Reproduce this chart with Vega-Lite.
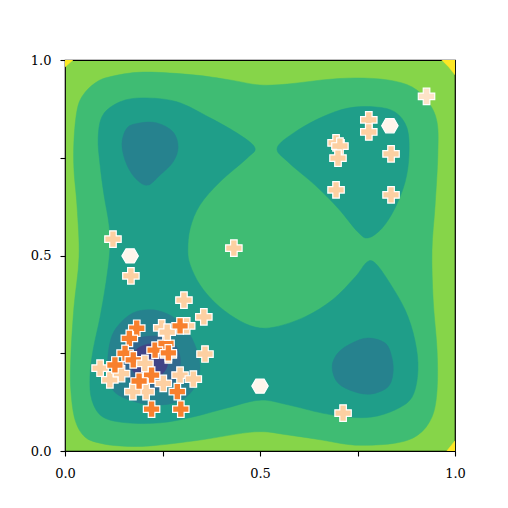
{
  "$schema": "https://vega.github.io/schema/vega-lite/v6.json",
  "width": 390,
  "height": 391,
  "autosize": {"type": "none"},
  "padding": {"left": 65, "top": 60, "right": 53, "bottom": 57},
  "config": {
    "view": {"stroke": "#000000", "strokeWidth": 1.2, "fill": "#86d549"},
    "axis": {
      "domain": false,
      "grid": false,
      "ticks": true,
      "tickColor": "#000000",
      "tickSize": 5,
      "tickWidth": 1.1,
      "labelFont": "DejaVu Serif",
      "labelFontSize": 13,
      "labelColor": "#000000",
      "labelFlush": false,
      "title": null
    },
    "axisX": {"labelPadding": 11},
    "axisY": {"labelPadding": 9}
  },
  "datasets": {
    "contours": [
      {"p": "Y1", "i": 0, "x": 0, "y": 1}, {"p": "Y1", "i": 1, "x": 0.0205, "y": 1}, {"p": "Y1", "i": 2, "x": 0, "y": 0.982},
      {"p": "Y2", "i": 0, "x": 0.966, "y": 1}, {"p": "Y2", "i": 1, "x": 1, "y": 1}, {"p": "Y2", "i": 2, "x": 1, "y": 0.962}, {"p": "Y2", "i": 3, "x": 0.984, "y": 0.982},
      {"p": "Y3", "i": 0, "x": 0.979, "y": 0}, {"p": "Y3", "i": 1, "x": 1, "y": 0}, {"p": "Y3", "i": 2, "x": 1, "y": 0.026},

      {"p": "G", "i": 0, "x": 0.023, "y": 0.795},
      {"p": "G", "i": 1, "x": 0.031, "y": 0.872},
      {"p": "G", "i": 2, "x": 0.046, "y": 0.910},
      {"p": "G", "i": 3, "x": 0.077, "y": 0.941},
      {"p": "G", "i": 4, "x": 0.115, "y": 0.957},
      {"p": "G", "i": 5, "x": 0.200, "y": 0.969},
      {"p": "G", "i": 6, "x": 0.328, "y": 0.962},
      {"p": "G", "i": 7, "x": 0.423, "y": 0.949},
      {"p": "G", "i": 8, "x": 0.500, "y": 0.936},
      {"p": "G", "i": 9, "x": 0.577, "y": 0.939},
      {"p": "G", "i": 10, "x": 0.659, "y": 0.949},
      {"p": "G", "i": 11, "x": 0.744, "y": 0.954},
      {"p": "G", "i": 12, "x": 0.828, "y": 0.949},
      {"p": "G", "i": 13, "x": 0.890, "y": 0.931},
      {"p": "G", "i": 14, "x": 0.931, "y": 0.893},
      {"p": "G", "i": 15, "x": 0.954, "y": 0.841},
      {"p": "G", "i": 16, "x": 0.956, "y": 0.757},
      {"p": "G", "i": 17, "x": 0.949, "y": 0.629},
      {"p": "G", "i": 18, "x": 0.941, "y": 0.514},
      {"p": "G", "i": 19, "x": 0.944, "y": 0.386},
      {"p": "G", "i": 20, "x": 0.954, "y": 0.258},
      {"p": "G", "i": 21, "x": 0.954, "y": 0.156},
      {"p": "G", "i": 22, "x": 0.941, "y": 0.087},
      {"p": "G", "i": 23, "x": 0.905, "y": 0.041},
      {"p": "G", "i": 24, "x": 0.846, "y": 0.020},
      {"p": "G", "i": 25, "x": 0.744, "y": 0.015},
      {"p": "G", "i": 26, "x": 0.659, "y": 0.028},
      {"p": "G", "i": 27, "x": 0.572, "y": 0.041},
      {"p": "G", "i": 28, "x": 0.487, "y": 0.049},
      {"p": "G", "i": 29, "x": 0.346, "y": 0.028},
      {"p": "G", "i": 30, "x": 0.218, "y": 0.013},
      {"p": "G", "i": 31, "x": 0.141, "y": 0.013},
      {"p": "G", "i": 32, "x": 0.090, "y": 0.020},
      {"p": "G", "i": 33, "x": 0.051, "y": 0.036},
      {"p": "G", "i": 34, "x": 0.026, "y": 0.079},
      {"p": "G", "i": 35, "x": 0.015, "y": 0.156},
      {"p": "G", "i": 36, "x": 0.015, "y": 0.240},
      {"p": "G", "i": 37, "x": 0.023, "y": 0.368},
      {"p": "G", "i": 38, "x": 0.036, "y": 0.496},
      {"p": "G", "i": 39, "x": 0.031, "y": 0.624},
      {"p": "G", "i": 40, "x": 0.023, "y": 0.719},

      {"p": "T1", "i": 0, "x": 0.487, "y": 0.775},
      {"p": "T1", "i": 1, "x": 0.449, "y": 0.808},
      {"p": "T1", "i": 2, "x": 0.372, "y": 0.852},
      {"p": "T1", "i": 3, "x": 0.287, "y": 0.893},
      {"p": "T1", "i": 4, "x": 0.200, "y": 0.903},
      {"p": "T1", "i": 5, "x": 0.141, "y": 0.893},
      {"p": "T1", "i": 6, "x": 0.097, "y": 0.859},
      {"p": "T1", "i": 7, "x": 0.085, "y": 0.801},
      {"p": "T1", "i": 8, "x": 0.090, "y": 0.731},
      {"p": "T1", "i": 9, "x": 0.100, "y": 0.655},
      {"p": "T1", "i": 10, "x": 0.113, "y": 0.578},
      {"p": "T1", "i": 11, "x": 0.115, "y": 0.514},
      {"p": "T1", "i": 12, "x": 0.105, "y": 0.430},
      {"p": "T1", "i": 13, "x": 0.090, "y": 0.343},
      {"p": "T1", "i": 14, "x": 0.072, "y": 0.258},
      {"p": "T1", "i": 15, "x": 0.064, "y": 0.189},
      {"p": "T1", "i": 16, "x": 0.069, "y": 0.130},
      {"p": "T1", "i": 17, "x": 0.097, "y": 0.087},
      {"p": "T1", "i": 18, "x": 0.159, "y": 0.072},
      {"p": "T1", "i": 19, "x": 0.244, "y": 0.072},
      {"p": "T1", "i": 20, "x": 0.328, "y": 0.087},
      {"p": "T1", "i": 21, "x": 0.415, "y": 0.110},
      {"p": "T1", "i": 22, "x": 0.500, "y": 0.130},
      {"p": "T1", "i": 23, "x": 0.572, "y": 0.118},
      {"p": "T1", "i": 24, "x": 0.659, "y": 0.097},
      {"p": "T1", "i": 25, "x": 0.726, "y": 0.087},
      {"p": "T1", "i": 26, "x": 0.787, "y": 0.087},
      {"p": "T1", "i": 27, "x": 0.846, "y": 0.105},
      {"p": "T1", "i": 28, "x": 0.890, "y": 0.138},
      {"p": "T1", "i": 29, "x": 0.905, "y": 0.207},
      {"p": "T1", "i": 30, "x": 0.897, "y": 0.284},
      {"p": "T1", "i": 31, "x": 0.872, "y": 0.361},
      {"p": "T1", "i": 32, "x": 0.828, "y": 0.437},
      {"p": "T1", "i": 33, "x": 0.795, "y": 0.481},
      {"p": "T1", "i": 34, "x": 0.774, "y": 0.483},
      {"p": "T1", "i": 35, "x": 0.744, "y": 0.445},
      {"p": "T1", "i": 36, "x": 0.685, "y": 0.386},
      {"p": "T1", "i": 37, "x": 0.615, "y": 0.343},
      {"p": "T1", "i": 38, "x": 0.538, "y": 0.317},
      {"p": "T1", "i": 39, "x": 0.487, "y": 0.317},
      {"p": "T1", "i": 40, "x": 0.436, "y": 0.340},
      {"p": "T1", "i": 41, "x": 0.385, "y": 0.379},
      {"p": "T1", "i": 42, "x": 0.346, "y": 0.425},
      {"p": "T1", "i": 43, "x": 0.321, "y": 0.476},
      {"p": "T1", "i": 44, "x": 0.315, "y": 0.514},
      {"p": "T1", "i": 45, "x": 0.321, "y": 0.570},
      {"p": "T1", "i": 46, "x": 0.346, "y": 0.629},
      {"p": "T1", "i": 47, "x": 0.397, "y": 0.688},
      {"p": "T1", "i": 48, "x": 0.467, "y": 0.749},

      {"p": "T2", "i": 0, "x": 0.544, "y": 0.775},
      {"p": "T2", "i": 1, "x": 0.590, "y": 0.816},
      {"p": "T2", "i": 2, "x": 0.659, "y": 0.854},
      {"p": "T2", "i": 3, "x": 0.726, "y": 0.877},
      {"p": "T2", "i": 4, "x": 0.795, "y": 0.880},
      {"p": "T2", "i": 5, "x": 0.846, "y": 0.867},
      {"p": "T2", "i": 6, "x": 0.877, "y": 0.826},
      {"p": "T2", "i": 7, "x": 0.882, "y": 0.757},
      {"p": "T2", "i": 8, "x": 0.872, "y": 0.688},
      {"p": "T2", "i": 9, "x": 0.846, "y": 0.621},
      {"p": "T2", "i": 10, "x": 0.813, "y": 0.570},
      {"p": "T2", "i": 11, "x": 0.777, "y": 0.545},
      {"p": "T2", "i": 12, "x": 0.751, "y": 0.560},
      {"p": "T2", "i": 13, "x": 0.700, "y": 0.621},
      {"p": "T2", "i": 14, "x": 0.641, "y": 0.680},
      {"p": "T2", "i": 15, "x": 0.572, "y": 0.739},

      {"p": "D1", "i": 0, "x": 0.146, "y": 0.783},
      {"p": "D1", "i": 1, "x": 0.159, "y": 0.826},
      {"p": "D1", "i": 2, "x": 0.192, "y": 0.839},
      {"p": "D1", "i": 3, "x": 0.236, "y": 0.839},
      {"p": "D1", "i": 4, "x": 0.277, "y": 0.816},
      {"p": "D1", "i": 5, "x": 0.290, "y": 0.777},
      {"p": "D1", "i": 6, "x": 0.277, "y": 0.739},
      {"p": "D1", "i": 7, "x": 0.244, "y": 0.706},
      {"p": "D1", "i": 8, "x": 0.213, "y": 0.680},
      {"p": "D1", "i": 9, "x": 0.185, "y": 0.693},
      {"p": "D1", "i": 10, "x": 0.159, "y": 0.731},

      {"p": "D2", "i": 0, "x": 0.685, "y": 0.215},
      {"p": "D2", "i": 1, "x": 0.700, "y": 0.251},
      {"p": "D2", "i": 2, "x": 0.736, "y": 0.276},
      {"p": "D2", "i": 3, "x": 0.777, "y": 0.289},
      {"p": "D2", "i": 4, "x": 0.821, "y": 0.276},
      {"p": "D2", "i": 5, "x": 0.838, "y": 0.240},
      {"p": "D2", "i": 6, "x": 0.841, "y": 0.199},
      {"p": "D2", "i": 7, "x": 0.828, "y": 0.164},
      {"p": "D2", "i": 8, "x": 0.787, "y": 0.146},
      {"p": "D2", "i": 9, "x": 0.744, "y": 0.151},
      {"p": "D2", "i": 10, "x": 0.700, "y": 0.174},

      {"p": "D3", "i": 0, "x": 0.115, "y": 0.276},
      {"p": "D3", "i": 1, "x": 0.133, "y": 0.317},
      {"p": "D3", "i": 2, "x": 0.174, "y": 0.353},
      {"p": "D3", "i": 3, "x": 0.226, "y": 0.361},
      {"p": "D3", "i": 4, "x": 0.277, "y": 0.343},
      {"p": "D3", "i": 5, "x": 0.313, "y": 0.309},
      {"p": "D3", "i": 6, "x": 0.338, "y": 0.258},
      {"p": "D3", "i": 7, "x": 0.346, "y": 0.207},
      {"p": "D3", "i": 8, "x": 0.328, "y": 0.156},
      {"p": "D3", "i": 9, "x": 0.287, "y": 0.125},
      {"p": "D3", "i": 10, "x": 0.226, "y": 0.118},
      {"p": "D3", "i": 11, "x": 0.167, "y": 0.130},
      {"p": "D3", "i": 12, "x": 0.123, "y": 0.156},
      {"p": "D3", "i": 13, "x": 0.110, "y": 0.215},

      {"p": "D4", "i": 0, "x": 0.149, "y": 0.258},
      {"p": "D4", "i": 1, "x": 0.174, "y": 0.284},
      {"p": "D4", "i": 2, "x": 0.218, "y": 0.294},
      {"p": "D4", "i": 3, "x": 0.262, "y": 0.289},
      {"p": "D4", "i": 4, "x": 0.290, "y": 0.258},
      {"p": "D4", "i": 5, "x": 0.295, "y": 0.215},
      {"p": "D4", "i": 6, "x": 0.277, "y": 0.174},
      {"p": "D4", "i": 7, "x": 0.236, "y": 0.156},
      {"p": "D4", "i": 8, "x": 0.192, "y": 0.161},
      {"p": "D4", "i": 9, "x": 0.159, "y": 0.189},
      {"p": "D4", "i": 10, "x": 0.146, "y": 0.225},

      {"p": "D5", "i": 0, "x": 0.167, "y": 0.238},
      {"p": "D5", "i": 1, "x": 0.192, "y": 0.266},
      {"p": "D5", "i": 2, "x": 0.231, "y": 0.274},
      {"p": "D5", "i": 3, "x": 0.259, "y": 0.253},
      {"p": "D5", "i": 4, "x": 0.262, "y": 0.217},
      {"p": "D5", "i": 5, "x": 0.238, "y": 0.187},
      {"p": "D5", "i": 6, "x": 0.203, "y": 0.182},
      {"p": "D5", "i": 7, "x": 0.174, "y": 0.205}
    ],
    "points": [
      {"k": "hex", "c": "w", "x": 0.167, "y": 0.499},
      {"k": "hex", "c": "w", "x": 0.500, "y": 0.166},
      {"k": "hex", "c": "w", "x": 0.833, "y": 0.832},
      {"k": "cross", "c": "l", "x": 0.927, "y": 0.907},
      {"k": "cross", "c": "p", "x": 0.779, "y": 0.847},
      {"k": "cross", "c": "p", "x": 0.779, "y": 0.816},
      {"k": "cross", "c": "p", "x": 0.695, "y": 0.788},
      {"k": "cross", "c": "p", "x": 0.705, "y": 0.780},
      {"k": "cross", "c": "p", "x": 0.700, "y": 0.749},
      {"k": "cross", "c": "p", "x": 0.836, "y": 0.760},
      {"k": "cross", "c": "p", "x": 0.695, "y": 0.668},
      {"k": "cross", "c": "p", "x": 0.836, "y": 0.655},
      {"k": "cross", "c": "p", "x": 0.123, "y": 0.542},
      {"k": "cross", "c": "p", "x": 0.169, "y": 0.448},
      {"k": "cross", "c": "p", "x": 0.433, "y": 0.519},
      {"k": "cross", "c": "p", "x": 0.305, "y": 0.386},
      {"k": "cross", "c": "p", "x": 0.356, "y": 0.343},
      {"k": "cross", "c": "p", "x": 0.359, "y": 0.248},
      {"k": "cross", "c": "p", "x": 0.713, "y": 0.097},
      {"k": "cross", "c": "p", "x": 0.090, "y": 0.212},
      {"k": "cross", "c": "p", "x": 0.115, "y": 0.182},
      {"k": "cross", "c": "p", "x": 0.145, "y": 0.198},
      {"k": "cross", "c": "p", "x": 0.208, "y": 0.152},
      {"k": "cross", "c": "p", "x": 0.174, "y": 0.152},
      {"k": "cross", "c": "p", "x": 0.252, "y": 0.173},
      {"k": "cross", "c": "p", "x": 0.295, "y": 0.194},
      {"k": "cross", "c": "p", "x": 0.329, "y": 0.184},
      {"k": "cross", "c": "o", "x": 0.184, "y": 0.314},
      {"k": "cross", "c": "o", "x": 0.165, "y": 0.288},
      {"k": "cross", "c": "o", "x": 0.154, "y": 0.250},
      {"k": "cross", "c": "o", "x": 0.128, "y": 0.220},
      {"k": "cross", "c": "o", "x": 0.175, "y": 0.233},
      {"k": "cross", "c": "p", "x": 0.205, "y": 0.224},
      {"k": "cross", "c": "o", "x": 0.222, "y": 0.194},
      {"k": "cross", "c": "o", "x": 0.190, "y": 0.179},
      {"k": "cross", "c": "o", "x": 0.231, "y": 0.258},
      {"k": "cross", "c": "p", "x": 0.265, "y": 0.246},
      {"k": "cross", "c": "o", "x": 0.259, "y": 0.275},
      {"k": "cross", "c": "p", "x": 0.248, "y": 0.315},
      {"k": "cross", "c": "p", "x": 0.262, "y": 0.304},
      {"k": "cross", "c": "p", "x": 0.312, "y": 0.320},
      {"k": "cross", "c": "o", "x": 0.295, "y": 0.320},
      {"k": "cross", "c": "o", "x": 0.265, "y": 0.251},
      {"k": "cross", "c": "o", "x": 0.288, "y": 0.152},
      {"k": "cross", "c": "o", "x": 0.222, "y": 0.107},
      {"k": "cross", "c": "o", "x": 0.297, "y": 0.107}
    ]
  },
  "encoding": {
    "x": {"field": "x", "type": "quantitative", "scale": {"domain": [0, 1], "nice": false, "zero": false},
          "axis": {"values": [0, 0.25, 0.5, 0.75, 1], "labelExpr": "datum.value == 0.25 || datum.value == 0.75 ? '' : format(datum.value, '.1f')"}},
    "y": {"field": "y", "type": "quantitative", "scale": {"domain": [0, 1], "nice": false, "zero": false},
          "axis": {"values": [0, 0.25, 0.5, 0.75, 1], "labelExpr": "datum.value == 0.25 || datum.value == 0.75 ? '' : format(datum.value, '.1f')"}}
  },
  "layer": [
    {
      "data": {"name": "contours"},
      "transform": [{"filter": {"field": "p", "oneOf": ["Y1", "Y2", "Y3"]}}],
      "mark": {"type": "line", "interpolate": "linear-closed", "fill": "#fde725", "stroke": "#fde725", "strokeWidth": 0.5, "clip": true},
      "encoding": {
        "order": {"field": "i", "type": "quantitative"},
        "detail": {"field": "p", "type": "nominal"}
      }
    },
    {
      "data": {"name": "contours"},
      "transform": [{"filter": {"field": "p", "equal": "G"}}],
      "mark": {"type": "line", "interpolate": "cardinal-closed", "fill": "#3fbc73", "stroke": "#3fbc73", "strokeWidth": 0.5, "clip": true},
      "encoding": {
        "order": {"field": "i", "type": "quantitative"},
        "detail": {"field": "p", "type": "nominal"}
      }
    },
    {
      "data": {"name": "contours"},
      "transform": [{"filter": {"field": "p", "oneOf": ["T1", "T2"]}}],
      "mark": {"type": "line", "interpolate": "cardinal-closed", "fill": "#1f9e89", "stroke": "#1f9e89", "strokeWidth": 0.5, "clip": true},
      "encoding": {
        "order": {"field": "i", "type": "quantitative"},
        "detail": {"field": "p", "type": "nominal"}
      }
    },
    {
      "data": {"name": "contours"},
      "transform": [{"filter": {"field": "p", "oneOf": ["D1", "D2", "D3"]}}],
      "mark": {"type": "line", "interpolate": "cardinal-closed", "fill": "#26828e", "stroke": "#26828e", "strokeWidth": 0.5, "clip": true},
      "encoding": {
        "order": {"field": "i", "type": "quantitative"},
        "detail": {"field": "p", "type": "nominal"}
      }
    },
    {
      "data": {"name": "contours"},
      "transform": [{"filter": {"field": "p", "equal": "D4"}}],
      "mark": {"type": "line", "interpolate": "cardinal-closed", "fill": "#31688e", "stroke": "#31688e", "strokeWidth": 0.5, "clip": true},
      "encoding": {
        "order": {"field": "i", "type": "quantitative"},
        "detail": {"field": "p", "type": "nominal"}
      }
    },
    {
      "data": {"name": "contours"},
      "transform": [{"filter": {"field": "p", "equal": "D5"}}],
      "mark": {"type": "line", "interpolate": "cardinal-closed", "fill": "#414487", "stroke": "#414487", "strokeWidth": 0.5, "clip": true},
      "encoding": {
        "order": {"field": "i", "type": "quantitative"},
        "detail": {"field": "p", "type": "nominal"}
      }
    },
    {
      "data": {"name": "points"},
      "mark": {"type": "point", "filled": true, "opacity": 1, "stroke": "#ffffff", "strokeWidth": 1.2, "size": 270},
      "encoding": {
        "shape": {"field": "k", "type": "nominal", "legend": null,
                  "scale": {"domain": ["hex", "cross"], "range": ["M-1,0L-0.5,-0.866L0.5,-0.866L1,0L0.5,0.866L-0.5,0.866Z", "cross"]}},
        "fill": {"field": "c", "type": "nominal", "legend": null,
                 "scale": {"domain": ["w", "l", "p", "o"], "range": ["#fff5eb", "#fee3c8", "#fdd0a2", "#f8802d"]}}
      }
    }
  ]
}
